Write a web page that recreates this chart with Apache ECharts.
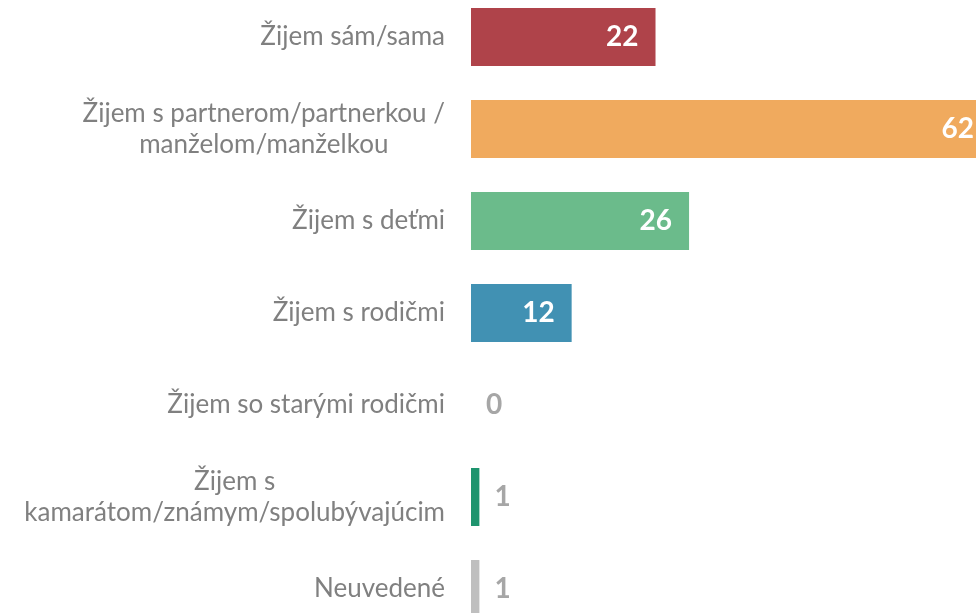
<!DOCTYPE html>
<html>
<head>
<meta charset="utf-8">
<script src="https://cdn.jsdelivr.net/npm/echarts@6/dist/echarts.min.js"></script>
<style>
  html, body { margin: 0; padding: 0; background: #fff; }
  #chart { width: 976px; height: 613px; }
</style>
</head>
<body>
<div id="chart"></div>
<script>
// kategórie a hodnoty
const categories = [
  'Žijem sám/sama',
  'Žijem s partnerom/partnerkou /\nmanželom/manželkou',
  'Žijem s deťmi',
  'Žijem s rodičmi',
  'Žijem so starými rodičmi',
  'Žijem s\nkamarátom/známym/spolubývajúcim',
  'Neuvedené'
]
const values = [22, 62, 26, 12, 0, 1, 1]
const barColors = ['#AF434A', '#F0AA5E', '#6BBB8B', '#4191B3', '#A6A6A6', '#1E946E', '#BFBFBF']

const chart = echarts.init(document.getElementById('chart'))

const seriesData = values.map((v, i) => {
  const inside = v >= 10
  return {
    value: v,
    itemStyle: { color: barColors[i] },
    label: {
      position: inside ? 'insideRight' : 'right',
      distance: inside ? 17 : 15,
      color: inside ? '#fff' : '#A6A6A6'
    }
  }
})

chart.setOption({
  animation: false,
  grid: {
    left: 471,
    top: -9,
    width: 520,
    height: 644,
    containLabel: false,
    outerBoundsMode: 'none'
  },
  xAxis: {
    type: 'value',
    min: 0,
    max: 62,
    show: false,
    splitLine: { show: false }
  },
  yAxis: {
    type: 'category',
    data: categories,
    inverse: true,
    axisLine: { show: false },
    axisTick: { show: false },
    axisLabel: {
      margin: 26,
      color: '#808080',
      fontFamily: 'Lato',
      fontSize: 26,
      lineHeight: 31,
      formatter: function (val) {
        return val.split('\n').map(s => '{c|' + s + '}').join('\n')
      },
      rich: {
        c: { align: 'center', color: '#808080', fontFamily: 'Lato', fontSize: 26, lineHeight: 31 }
      }
    }
  },
  series: [
    {
      type: 'bar',
      data: seriesData,
      barCategoryGap: '37%',
      label: {
        show: true,
        fontFamily: 'Lato',
        fontWeight: 'bold',
        fontSize: 28
      }
    }
  ]
})
</script>
</body>
</html>
